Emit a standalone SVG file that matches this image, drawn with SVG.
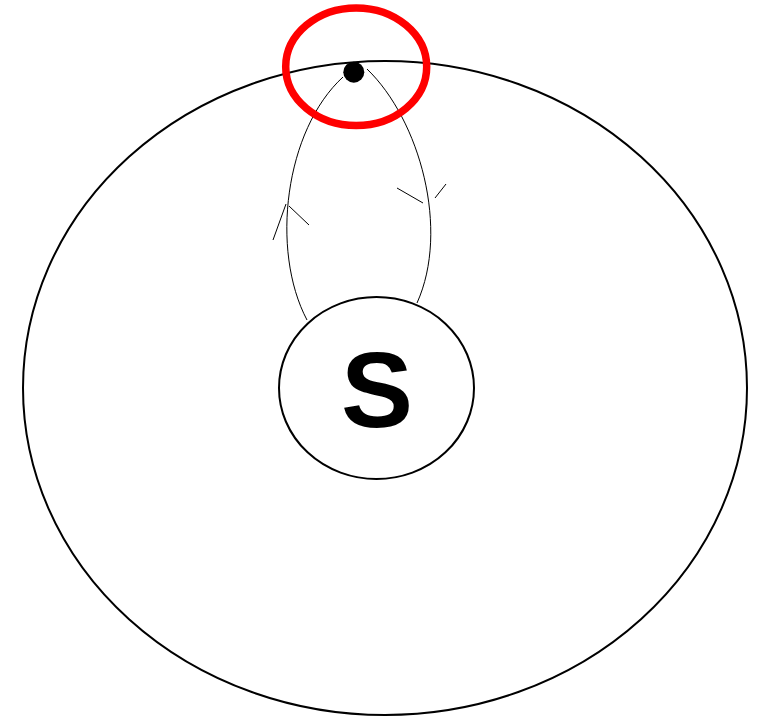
<svg xmlns="http://www.w3.org/2000/svg" width="762" height="719" viewBox="0 0 762 719">
<style>
.shape{fill:none;stroke:#000;stroke-width:2}
.edge{fill:none;stroke:#000;stroke-width:1}
.lbl{font-family:"Liberation Sans",Arial,sans-serif;font-weight:bold;font-size:108px;fill:#000}
</style>
<rect width="762" height="719" fill="#fff"/>
<g id="outer"><ellipse class="shape" cx="385" cy="388" rx="362" ry="327"/></g>
<g id="S"><ellipse class="shape" cx="376.5" cy="388" rx="97.5" ry="91"/><text class="lbl" x="377" y="427" text-anchor="middle">S</text></g>
<g id="connectors">
<path class="edge" d="M343 77 C285 130 270 250 307 320"/>
<path class="edge" d="M286 204 L273 240 M289 206 L309 225"/>
<path class="edge" d="M367 69 C420 120 450 230 417 303"/>
<path class="edge" d="M397 188 L423 203 M435 198 L446 184"/>
</g>
<g id="point"><circle cx="353.8" cy="72.2" r="10.5" fill="#000"/></g>
<g id="highlight"><ellipse cx="356.2" cy="66.8" rx="70.5" ry="58.8" fill="none" stroke="#f00" stroke-width="7.5"/></g>
</svg>
